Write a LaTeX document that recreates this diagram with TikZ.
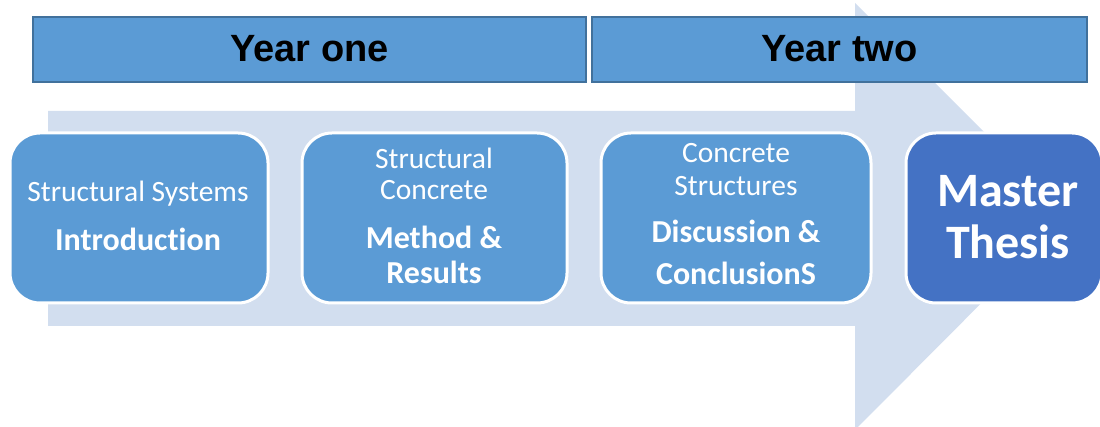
\documentclass[tikz,border=0pt]{standalone}
\usepackage{fontspec}
\setmainfont{Carlito}[Ligatures=NoCommon]
\newfontfamily\arialfont{Liberation Sans}
\definecolor{boxblue}{HTML}{5B9BD5}
\definecolor{boxedge}{HTML}{41719C}
\definecolor{arrowfill}{HTML}{D2DEEF}
\definecolor{thesisblue}{HTML}{4472C4}
\begin{document}
\begin{tikzpicture}[x=1pt,y=-1pt,
  yearbox/.style={rectangle,fill=boxblue,draw=boxedge,line width=1.5pt,minimum height=65pt,inner sep=0pt},
  yeartext/.style={anchor=base,inner sep=0pt,font=\arialfont\bfseries\fontsize{38}{40}\selectfont,text=black},
  stagebox/.style={rectangle,rounded corners=30pt,fill=boxblue,draw=white,line width=3pt,minimum height=170pt,inner sep=0pt},
  regtext/.style={anchor=base,inner sep=0pt,text=white,font=\fontsize{29.5}{32}\selectfont},
  boldtext/.style={anchor=base,inner sep=0pt,text=white,font=\bfseries\fontsize{32}{35}\selectfont},
  bigtext/.style={anchor=base,inner sep=0pt,text=white,font=\bfseries\fontsize{48}{52}\selectfont}]
\useasboundingbox (0,0) rectangle (1100,427);
\clip (0,0) rectangle (1100,427);
% big arrow
\fill[arrowfill] (48,111) -- (855,111) -- (855,3) -- (1068,216) -- (855,430) -- (855,326) -- (48,326) -- cycle;
% year boxes
\node[yearbox,minimum width=553pt] (y1) at (309.5,49.5) {};
\node[yearbox,minimum width=495pt] (y2) at (839.5,49.5) {};
\node[yeartext] (y1t) at (309.5,62) {Year one};
\node[yeartext] (y2t) at (839.5,62) {Year two};
% stage boxes
\node[stagebox,minimum width=258pt] (b1) at (139,218) {};
\node[stagebox,minimum width=265pt] (b2) at (434.5,218) {};
\node[stagebox,minimum width=270pt] (b3) at (736,218) {};
\node[stagebox,fill=thesisblue,minimum width=196pt] (b4) at (1004,218) {};
% texts
\node[regtext] (t1a) at (138,202) {Structural Systems};
\node[boldtext] (t1b) at (138,251) {Introduction};
\node[regtext] (t2a) at (434,169) {Structural};
\node[regtext] (t2b) at (434,200) {Concrete};
\node[boldtext] (t2c) at (434,249) {Method \&};
\node[boldtext] (t2d) at (434,284) {Results};
\node[regtext] (t3a) at (736,163) {Concrete};
\node[regtext] (t3b) at (736,196) {Structures};
\node[boldtext] (t3c) at (736,243) {Discussion \&};
\node[boldtext] (t3d) at (736,285) {ConclusionS};
\node[bigtext] (t4a) at (1008,207) {Master};
\node[bigtext] (t4b) at (1008,259) {Thesis};
\end{tikzpicture}
\end{document}
